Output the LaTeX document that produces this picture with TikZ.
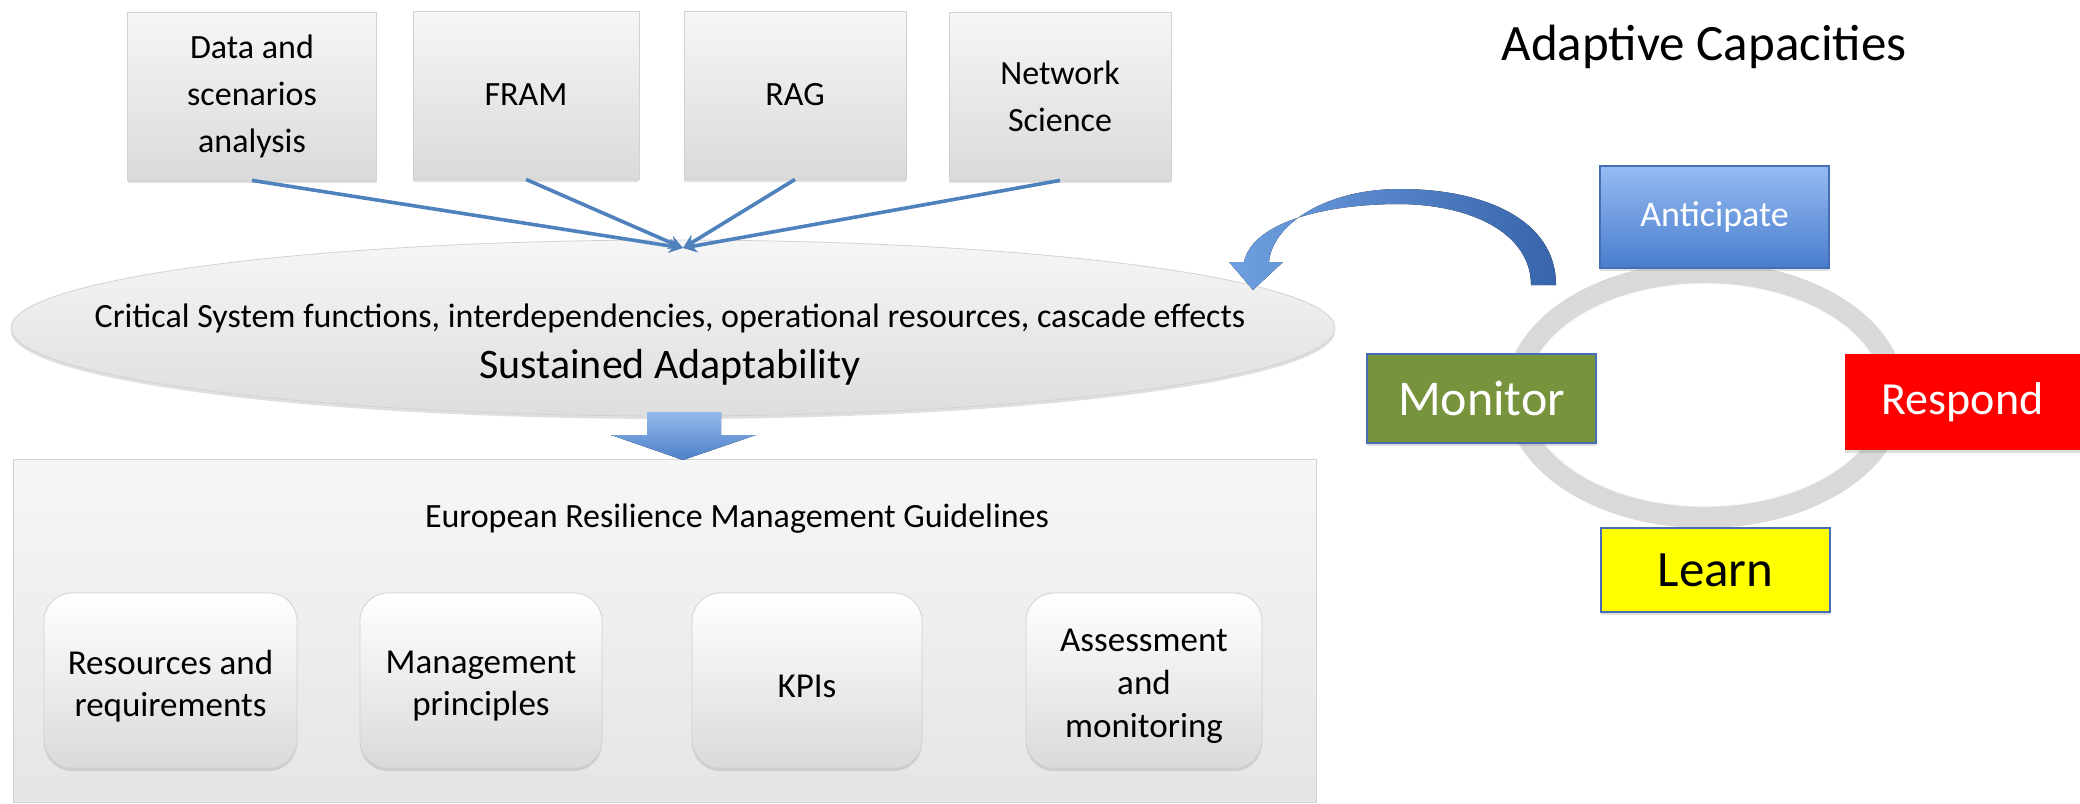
\documentclass[tikz,border=0pt]{standalone}
\usepackage{fontspec}
\setmainfont{Carlito}
\usetikzlibrary{shapes.geometric,shadows,arrows.meta,calc}
\definecolor{lineblue}{RGB}{79,129,189}
\definecolor{boxtop}{RGB}{246,246,246}
\definecolor{boxbot}{RGB}{218,218,218}
\definecolor{boxline}{RGB}{210,210,210}
\definecolor{arrtop}{RGB}{150,185,235}
\definecolor{arrbot}{RGB}{75,128,200}
\definecolor{curvlight}{RGB}{110,160,225}
\definecolor{curvdark}{RGB}{55,100,170}
\definecolor{antitop}{RGB}{150,187,242}
\definecolor{antibot}{RGB}{72,125,205}
\definecolor{antiline}{RGB}{70,110,180}
\definecolor{monfill}{RGB}{119,147,60}
\definecolor{respfill}{RGB}{255,0,0}
\definecolor{learnfill}{RGB}{255,255,0}
\definecolor{ringgray}{RGB}{217,217,217}
\begin{document}
\begin{tikzpicture}[x=0.5pt,y=-0.5pt,
  softshadow/.style={drop shadow={opacity=0.25,shadow xshift=0pt,shadow yshift=-1.5pt}},
  topbox/.style={rectangle, draw=boxline, line width=0.4pt, top color=boxtop, bottom color=boxbot,
    inner sep=0pt, align=center, minimum height=84pt, softshadow,
    font=\fontsize{17}{23.5}\selectfont},
  conn/.style={draw=lineblue, line width=1.8pt, -{Stealth[length=7pt,width=7pt]}},
  subbox/.style={rectangle, rounded corners=14pt, draw=boxline, line width=0.4pt,
    top color=white, bottom color=boxbot, inner sep=0pt, minimum height=87.5pt, softshadow},
  subtext/.style={align=center, inner sep=0pt, font=\fontsize{17.5}{21}\selectfont},
  capbox/.style={rectangle, inner sep=0pt, minimum width=114.5pt, softshadow},
]
\useasboundingbox (0,0) rectangle (2080,803);

% top boxes
\node[topbox, minimum width=124.5pt] (b1) at (252,96) {Data and\\scenarios\\analysis};
\node[topbox, minimum width=113pt] (b2) at (526,95) {FRAM};
\node[topbox, minimum width=111pt] (b3) at (795,95) {RAG};
\node[topbox, minimum width=111pt] (b4) at (1060,96) {Network\\Science};

% ellipse
\node[ellipse, draw=boxline, line width=0.4pt, top color=boxtop, bottom color=boxbot!90,
  minimum width=662pt, minimum height=88pt, inner sep=0pt, softshadow] (sa) at (673,328) {};
\node[inner sep=0pt, font=\fontsize{17}{20}\selectfont] (satext) at (670,318)
  {Critical System functions, interdependencies, operational resources, cascade effects};
\node[inner sep=0pt, font=\fontsize{21}{24}\selectfont] (satitle) at (670,367) {Sustained Adaptability};

% converging connectors
\coordinate (conv) at (683,248);
\draw[conn] (b1.south) -- (conv);
\draw[conn] (b2.south) -- (conv);
\draw[conn] (b3.south) -- (conv);
\draw[conn] (b4.south) -- (conv);

% big box
\node[rectangle, draw=boxline, line width=0.4pt, top color=boxtop, bottom color=boxbot!70,
  minimum width=651.5pt, minimum height=171.5pt, inner sep=0pt] (erm) at (664.5,630.5) {};
\node[inner sep=0pt, font=\fontsize{17}{20}\selectfont] (ermtitle) at (737,519)
  {European Resilience Management Guidelines};

% block arrow down
\fill[top color=arrtop, bottom color=arrbot]
  (647,412) -- (721,412) -- (721,435) -- (756,435) -- (683,460) -- (611,435) -- (647,435) -- cycle;

% sub boxes
\node[subbox, minimum width=126.5pt] (r1) at (170.5,680.5) {};
\node[subbox, minimum width=121pt] (r2) at (481,680.5) {};
\node[subbox, minimum width=115pt] (r3) at (807,680.5) {};
\node[subbox, minimum width=118pt] (r4) at (1144,680.5) {};
\node[subtext] (r1t) at (170.5,686) {Resources and\\requirements};
\node[subtext] (r2t) at (481,686) {Management\\principles};
\node[subtext] (r3t) at (807,686) {KPIs};
\node[subtext, font=\fontsize{17.5}{21.5}\selectfont] (r4t) at (1144,686) {Assessment\\and\\monitoring};

% right side
\node[inner sep=0pt, font=\fontsize{25.5}{28}\selectfont] (adtitle) at (1704,47) {Adaptive Capacities};

\draw[ringgray, line width=11pt] (1705,395) ellipse [x radius=94.5pt, y radius=61pt];
\draw[white, line width=0.8pt, opacity=0.8] (1705,395) ellipse [x radius=89pt, y radius=55.5pt];

\node[capbox, draw=antiline, line width=0.6pt, top color=antitop, bottom color=antibot,
  minimum height=51pt, text=white, font=\fontsize{18}{20}\selectfont] (anti) at (1714.5,217) {Anticipate};
\node[capbox, fill=monfill, draw=antiline, line width=0.6pt, minimum height=44.5pt,
  text=white, font=\fontsize{25}{28}\selectfont] (mon) at (1481.5,398.5) {Monitor};
\node[capbox, fill=respfill, minimum width=117.5pt, minimum height=48pt,
  text=white, font=\fontsize{23}{26}\selectfont] (resp) at (1962.5,402) {Respond};
\node[capbox, fill=learnfill, draw=antiline, line width=0.6pt, minimum height=42pt,
  text=black, font=\fontsize{25.5}{28}\selectfont] (learn) at (1715.5,570) {Learn};

% curved arrow back to the ellipse
\fill[left color=curvlight, right color=curvdark]
  (1556,285) .. controls (1556,220) and (1485,189) .. (1400,189)
  .. controls (1325,189) and (1272,225) .. (1269,262)
  -- (1283,262) -- (1253,290) -- (1229,262) -- (1244,262)
  .. controls (1252,224) and (1320,204) .. (1400,204)
  .. controls (1478,205) and (1531,237) .. (1531,285) -- cycle;
\end{tikzpicture}
\end{document}
